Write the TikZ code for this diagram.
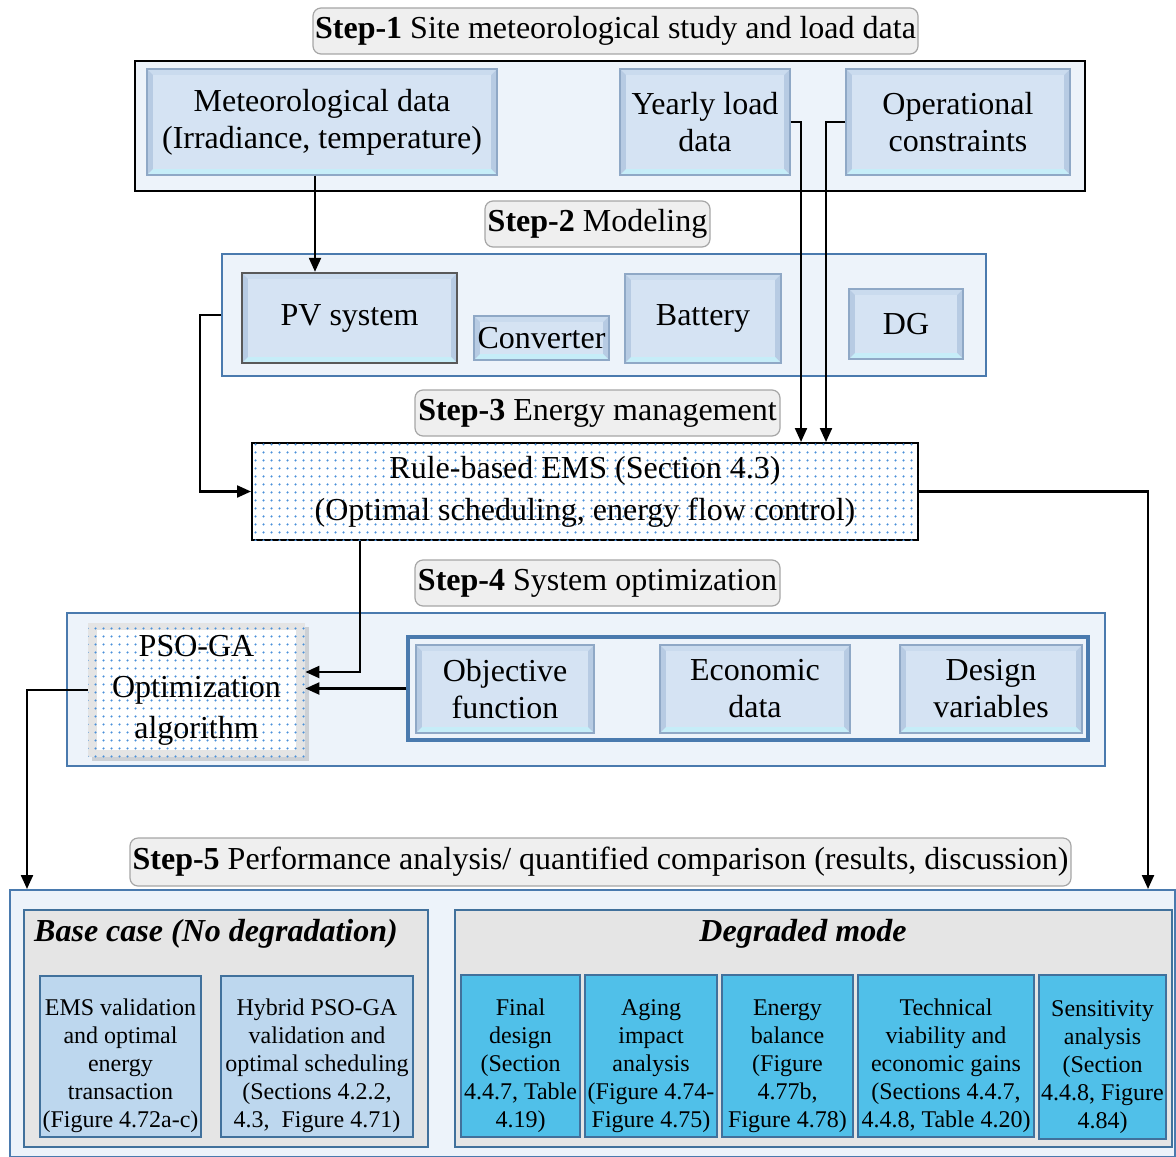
\documentclass[tikz,border=0pt]{standalone}
\usepackage{fontspec}
\setmainfont{Liberation Serif}
\usetikzlibrary{arrows.meta,patterns.meta,shadows}
\definecolor{labfill}{HTML}{EFEFEF}
\definecolor{labline}{HTML}{A6A6A6}
\definecolor{panelfill}{HTML}{EDF3FA}
\definecolor{panelline}{HTML}{4A7AAE}
\definecolor{bevelface}{HTML}{D5E3F3}
\definecolor{bevelrim}{HTML}{B7CBE3}
\definecolor{beveltop}{HTML}{CADBEE}
\definecolor{bevelbot}{HTML}{C6EDF8}
\definecolor{bevelline}{HTML}{8FA8C6}
\definecolor{psorim}{HTML}{E4E4E4}
\definecolor{casefill}{HTML}{E5E5E5}
\definecolor{basecell}{HTML}{BDD7EE}
\definecolor{degcell}{HTML}{50C0E9}
\definecolor{cellline}{HTML}{41719C}
\definecolor{dotblue}{HTML}{4A90D9}
\newcommand{\cellstrut}{\rule{0pt}{18pt}}

\begin{document}
\begin{tikzpicture}[x=0.5pt, y=-0.5pt,
  font=\fontsize{16}{18.5}\selectfont,
  arrow/.style={-{Triangle[length=7pt,width=6pt]}, draw=black, line width=1.1pt},
  steptag/.style={draw=labline, fill=labfill, rounded corners=4pt, line width=0.6pt, inner sep=0pt},
  panel/.style={draw=panelline, fill=panelfill, line width=1pt, inner sep=0pt},
  bevel/.style={draw=bevelline, fill=bevelrim, line width=0.6pt, inner sep=0pt, align=center,
    path picture={
      \fill[beveltop] (path picture bounding box.north west) -- (path picture bounding box.north east)
        -- ([shift={(-6,6)}]path picture bounding box.north east) -- ([shift={(6,6)}]path picture bounding box.north west) -- cycle;
      \fill[bevelbot] (path picture bounding box.south west) -- (path picture bounding box.south east)
        -- ([shift={(-6,-6)}]path picture bounding box.south east) -- ([shift={(6,-6)}]path picture bounding box.south west) -- cycle;
      \fill[bevelface] ([shift={(6,6)}]path picture bounding box.north west) rectangle ([shift={(-6,-6)}]path picture bounding box.south east);
    }},
  dotbox/.style={draw=black, line width=1pt, fill=white, inner sep=0pt, align=center,
    postaction={pattern={Dots[distance=4pt,radius=0.65pt]}, pattern color=dotblue}},
  psobox/.style={fill=psorim, inner sep=0pt, align=center, drop shadow={opacity=0.3, shadow xshift=2pt, shadow yshift=-2pt},
    path picture={
      \fill[white] ([shift={(9,7)}]path picture bounding box.north west) rectangle ([shift={(-9,-7)}]path picture bounding box.south east);
    },
    postaction={pattern={Dots[distance=4pt,radius=0.65pt]}, pattern color=dotblue}},
  casebox/.style={draw=cellline, fill=casefill, line width=1pt, inner sep=0pt},
  casetitle/.style={font=\fontsize{16}{18.5}\selectfont\bfseries\itshape},
  basebox/.style={draw=cellline, fill=basecell, line width=1pt, inner sep=0pt, align=center, font=\fontsize{12}{14}\selectfont},
  degbox/.style={draw=cellline, fill=degcell, line width=1pt, inner sep=0pt, align=center, font=\fontsize{12}{14}\selectfont}
]
\useasboundingbox (0,0) rectangle (1176,1156);

% Step-1
\node[steptag, minimum width=302.5pt, minimum height=23pt] (tag1) at (615.5,31) {\textbf{Step-1} Site meteorological study and load data};
\node[panel, draw=black, minimum width=475pt, minimum height=65pt] (s1) at (610,126) {};
\node[bevel, minimum width=175pt, minimum height=53pt] (met) at (322,122) {Meteorological data\\(Irradiance, temperature)};
\node[bevel, minimum width=85pt, minimum height=53pt] (load) at (705,122) {Yearly load\\data};
\node[bevel, minimum width=112pt, minimum height=53pt] (ops) at (958,122) {Operational\\constraints};

% Step-2
\node[steptag, minimum width=112.5pt, minimum height=23pt] (tag2) at (597.5,224) {\textbf{Step-2} Modeling};
\node[panel, minimum width=382pt, minimum height=61pt] (s2) at (604,315) {};
\node[bevel, draw=black!65, line width=1.2pt, minimum width=107.5pt, minimum height=45pt] (pv) at (349.5,318) {PV system};
\node[bevel, minimum width=67.5pt, minimum height=22pt] (conv) at (541.5,338) {Converter};
\node[bevel, minimum width=78pt, minimum height=44.5pt] (bat) at (703,318.5) {Battery};
\node[bevel, minimum width=57pt, minimum height=35pt] (dg) at (906,324) {DG};

% Step-3
\node[steptag, minimum width=182.5pt, minimum height=23pt] (tag3) at (597.5,413) {\textbf{Step-3} Energy management};
\node[dotbox, font=\fontsize{16}{21}\selectfont, minimum width=333pt, minimum height=48.5pt] (ems) at (585,491.5) {Rule-based EMS (Section 4.3)\\(Optimal scheduling, energy flow control)};

% Step-4
\node[steptag, minimum width=182.5pt, minimum height=23pt] (tag4) at (597.5,583) {\textbf{Step-4} System optimization};
\node[panel, minimum width=519pt, minimum height=76.5pt] (s4) at (586,689.5) {};
\node[panel, line width=1.6pt, minimum width=340pt, minimum height=51.5pt] (s4in) at (748,688.5) {};
\node[bevel, minimum width=89pt, minimum height=44pt] (obj) at (505,689) {Objective\\function};
\node[bevel, minimum width=95pt, minimum height=44pt] (eco) at (755,689) {Economic\\data};
\node[bevel, minimum width=91pt, minimum height=44pt] (dv) at (991,689) {Design\\variables};
\node[psobox, font=\fontsize{16}{20.5}\selectfont, minimum width=108.5pt, minimum height=67pt] (pso) at (196.5,690) {PSO-GA\\Optimization\\algorithm};

% Step-5
\node[steptag, minimum width=470.5pt, minimum height=24pt] (tag5) at (600.5,862) {\textbf{Step-5} Performance analysis/ quantified comparison (results, discussion)};
\node[panel, minimum width=582.5pt, minimum height=133.5pt] (s5) at (592.5,1023.5) {};
\node[casebox, minimum width=202pt, minimum height=118.5pt] (base) at (226,1028.5) {};
\node[casetitle] (basetitle) at (216,934) {Base case (No degradation)};
\node[casebox, minimum width=358.5pt, minimum height=118.5pt] (deg) at (813.5,1028.5) {};
\node[casetitle] (degtitle) at (803,934) {Degraded mode};

\node[basebox, minimum width=80.5pt, minimum height=80.5pt] (emsval) at (120.5,1056.5) {\cellstrut EMS validation\\and optimal\\energy\\transaction\\(Figure 4.72a-c)};
\node[basebox, minimum width=96pt, minimum height=80.5pt] (psoval) at (317,1056.5) {\cellstrut Hybrid PSO-GA\\validation and\\optimal scheduling\\(Sections 4.2.2,\\4.3,~ Figure 4.71)};

\node[degbox, minimum width=59.5pt, minimum height=81pt] (final) at (520.5,1056) {\cellstrut Final\\design\\(Section\\4.4.7, Table\\4.19)};
\node[degbox, minimum width=66pt, minimum height=81pt] (aging) at (651,1056) {\cellstrut Aging\\impact\\analysis\\(Figure 4.74-\\Figure 4.75)};
\node[degbox, minimum width=65.5pt, minimum height=81pt] (balance) at (787.5,1056) {\cellstrut Energy\\balance\\(Figure\\4.77b,\\Figure 4.78)};
\node[degbox, minimum width=88pt, minimum height=81pt] (viab) at (946,1056) {\cellstrut Technical\\viability and\\economic gains\\(Sections 4.4.7,\\4.4.8, Table 4.20)};
\node[degbox, minimum width=63.5pt, minimum height=82pt] (sens) at (1102.5,1057) {\cellstrut Sensitivity\\analysis\\(Section\\4.4.8, Figure\\4.84)};

% connectors
\coordinate (metx) at (315,0);
\coordinate (loadx) at (801,0);
\coordinate (opsx) at (826,0);
\coordinate (pvx) at (200,0);
\coordinate (emsx) at (1148,0);
\coordinate (emsd) at (360,0);
\coordinate (psox) at (27,0);

\draw[arrow] (metx |- met.south) -- (metx |- pv.north);
\draw[arrow] (load.east) -| (loadx |- ems.north);
\draw[arrow] (ops.west) -| (opsx |- ems.north);
\draw[arrow] (s2.west) -- (pvx |- s2.west) |- (ems.west);
\draw[arrow] (ems.east) -| (emsx |- s5.north);
\draw[arrow] (emsd |- ems.south) |- ([yshift=9pt]pso.east);
\draw[arrow] (s4in.west) -- (pso.east |- s4in.west);
\draw[arrow] (pso.west) -| (psox |- s5.north);

\end{tikzpicture}
\end{document}
